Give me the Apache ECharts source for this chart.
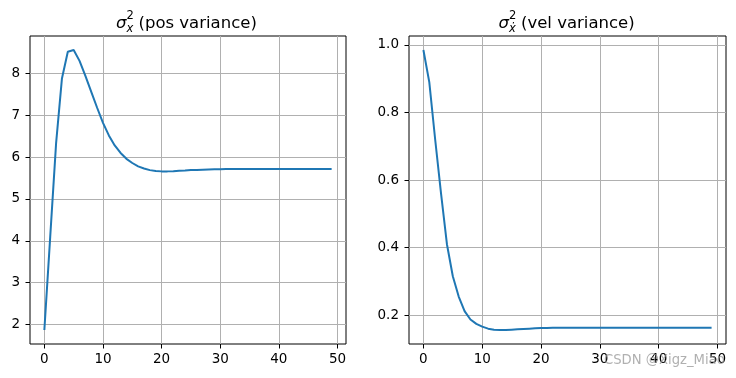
<!DOCTYPE html>
<html>
<head>
	<meta charset="utf-8">
	<script type="text/javascript" src="https://cdn.jsdelivr.net/npm/echarts@6/dist/echarts.min.js"></script>
	<style>
		html, body { margin: 0; padding: 0; background: #fff; }
	</style>
</head>
<body>
	<div id="main" style="width: 736px; height: 378px;"></div>

	<script type="text/javascript">
		// position variance per step
		var posVar = [1.87, 4.10, 6.33, 7.88, 8.52, 8.56, 8.30, 7.94, 7.56, 7.18,
			6.82, 6.52, 6.28, 6.10, 5.96, 5.86, 5.78, 5.73, 5.69, 5.67,
			5.66, 5.66, 5.665, 5.675, 5.68, 5.69, 5.695, 5.70, 5.705, 5.71,
			5.712, 5.714, 5.715, 5.715, 5.715, 5.715, 5.715, 5.715, 5.715, 5.715,
			5.715, 5.715, 5.715, 5.715, 5.715, 5.715, 5.715, 5.715, 5.715, 5.715];
		// velocity variance per step
		var velVar = [0.985, 0.89, 0.72, 0.56, 0.41, 0.315, 0.255, 0.212, 0.187, 0.174,
			0.166, 0.160, 0.157, 0.156, 0.156, 0.157, 0.158, 0.159, 0.160, 0.161,
			0.162, 0.162, 0.163, 0.163, 0.163, 0.163, 0.163, 0.163, 0.163, 0.163,
			0.163, 0.163, 0.163, 0.163, 0.163, 0.163, 0.163, 0.163, 0.163, 0.163,
			0.163, 0.163, 0.163, 0.163, 0.163, 0.163, 0.163, 0.163, 0.163, 0.163];
		var xTicks = [0, 10, 20, 30, 40, 50];
		var posTicks = [2, 3, 4, 5, 6, 7, 8];
		var velTicks = [0.2, 0.4, 0.6, 0.8, 1.0];

		var blue = '#1f77b4';
		var font = 'DejaVu Sans';

		// matplotlib style 5% margins
		function pad(arr) {
			var lo = Math.min.apply(null, arr), hi = Math.max.apply(null, arr);
			var m = (hi - lo) * 0.05;
			return [lo - m, hi + m];
		}
		var steps = posVar.map(function (v, i) { return i; });
		var xr = pad(steps), pr = pad(posVar), vr = pad(velVar);

		function xAxisOf(idx) {
			return {
				type: 'value', gridIndex: idx, min: xr[0], max: xr[1],
				axisLine: { show: false, onZero: false },
				axisTick: { show: true, length: 4.5, customValues: xTicks, lineStyle: { color: '#000', width: 1 } },
				axisLabel: { customValues: xTicks, color: '#000', fontSize: 13.5, fontFamily: font, margin: 8 },
				splitLine: { show: true, lineStyle: { color: '#b0b0b0', width: 1 } }
			};
		}
		function yAxisOf(idx, r, ticks, fmt) {
			return {
				type: 'value', gridIndex: idx, min: r[0], max: r[1],
				axisLine: { show: false, onZero: false },
				axisTick: { show: true, length: 4.5, customValues: ticks, lineStyle: { color: '#000', width: 1 } },
				axisLabel: { customValues: ticks, color: '#000', fontSize: 13.5, fontFamily: font, margin: 10, formatter: fmt },
				splitLine: { show: true, lineStyle: { color: '#b0b0b0', width: 1 } }
			};
		}

		function titleParts(x0, sub, rest) {
			return [
				{ type: 'text', x: x0, y: 24, style: { text: 'σ', font: 'italic 16.5px "DejaVu Sans"', fill: '#000', textAlign: 'left', textVerticalAlign: 'middle' } },
				{ type: 'text', x: x0 + 10.5, y: 16, style: { text: '2', font: '11.5px "DejaVu Sans"', fill: '#000', textAlign: 'left', textVerticalAlign: 'middle' } },
				{ type: 'text', x: x0 + 10.5, y: 29, style: { text: sub, font: 'italic 11.5px "DejaVu Sans"', fill: '#000', textAlign: 'left', textVerticalAlign: 'middle' } },
				{ type: 'text', x: x0 + 22.5, y: 23.5, style: { text: rest, font: '16.5px "DejaVu Sans"', fill: '#000', textAlign: 'left', textVerticalAlign: 'middle' } }
			];
		}

		var chart = echarts.init(document.getElementById('main'));
		chart.setOption({
			animation: false,
			backgroundColor: '#fff',
			grid: [
				{ left: 30, right: 390, top: 36, bottom: 34, show: true, borderColor: '#000', borderWidth: 1, containLabel: false },
				{ left: 409, right: 10, top: 36, bottom: 34, show: true, borderColor: '#000', borderWidth: 1, containLabel: false }
			],
			xAxis: [xAxisOf(0), xAxisOf(1)],
			yAxis: [
				yAxisOf(0, pr, posTicks, function (v) { return String(v); }),
				yAxisOf(1, vr, velTicks, function (v) { return v.toFixed(1); })
			],
			series: [
				{
					type: 'line', xAxisIndex: 0, yAxisIndex: 0, showSymbol: false,
					lineStyle: { color: blue, width: 2 },
					data: posVar.map(function (v, i) { return [steps[i], v]; })
				},
				{
					type: 'line', xAxisIndex: 1, yAxisIndex: 1, showSymbol: false,
					lineStyle: { color: blue, width: 2 },
					data: velVar.map(function (v, i) { return [steps[i], v]; })
				}
			],
			graphic: titleParts(116, 'x', '(pos variance)')
				.concat(titleParts(498.5, 'ẋ', '(vel variance)'))
				.concat([{
					type: 'text', x: 604, y: 361, z: 100,
					style: { text: 'CSDN @Xigz_Miao', font: '13.2px "DejaVu Sans"', fill: 'rgba(150,150,150,0.75)', textAlign: 'left', textVerticalAlign: 'middle' }
				}])
		});
	</script>
</body>
</html>
